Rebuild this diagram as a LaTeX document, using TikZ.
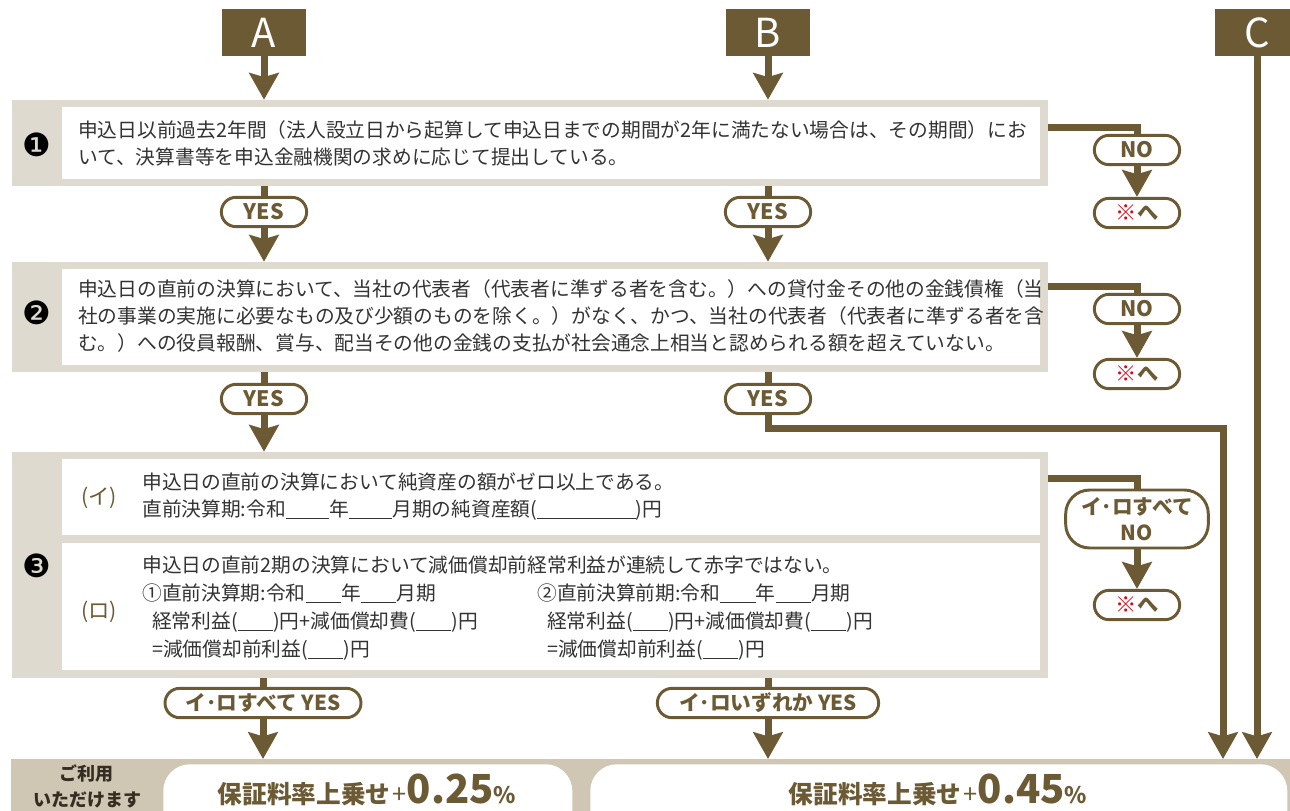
\documentclass[tikz,border=0pt]{standalone}
\usepackage{fontspec}
\setmainfont{Noto Sans CJK JP}
\newfontfamily\dingfont{DejaVu Sans}
\usetikzlibrary{arrows.meta}
\definecolor{brn}{HTML}{6B5A34}
\definecolor{boxtan}{HTML}{DEDACF}
\definecolor{bandtan}{HTML}{CFC7B4}
\definecolor{ink}{HTML}{333333}
\definecolor{inkdark}{HTML}{352D22}
\definecolor{kome}{HTML}{E60012}
\newcommand{\blk}[1]{\rule[-2pt]{#1}{0.7pt}}
\newcommand{\uplift}[1]{{\fontsize{18.5pt}{18.5pt}\selectfont 保証料率上乗せ}\,{\mdseries\fontsize{19pt}{19pt}\selectfont+}{\fontsize{30pt}{30pt}\selectfont #1}{\fontsize{17pt}{17pt}\selectfont\%}}
\tikzset{
  head/.style={fill=brn, text=white, minimum width=63pt, minimum height=35pt, inner sep=0pt, font=\fontsize{30pt}{30pt}\selectfont},
  qbox/.style={fill=boxtan, minimum width=777pt, inner sep=0pt},
  pill/.style={draw=brn, line width=2.2pt, fill=white, rounded corners=11pt, text=brn, inner sep=0pt, minimum width=64pt, minimum height=22pt, font=\bfseries\fontsize{16pt}{16pt}\selectfont},
  body/.style={anchor=west, align=left, text=ink, inner sep=0pt, font=\fontsize{14.8pt}{20.5pt}\selectfont},
  num/.style={font=\dingfont\fontsize{24pt}{24pt}\selectfont},
  conn/.style={draw=brn, line width=5.25pt},
}
\begin{document}
\begin{tikzpicture}[x=0.75pt, y=-0.75pt, >={Stealth[length=20pt,width=22pt,inset=3pt]}]
  \useasboundingbox (0,0) rectangle (1290,811);
  \node[head] (hA) at (264,32.5) {A};
  \node[head] (hB) at (768,32.5) {B};
  \node[head] (hC) at (1257,32.5) {C};

  \node[qbox, minimum height=64.5pt] (box1) at (530,143) {};
  \node[qbox, minimum height=82.5pt] (box2) at (530,317) {};
  \node[qbox, minimum height=169.5pt] (box3) at (530,565) {};
  \fill[white] (62,107) rectangle (1040,179);
  \fill[white] (62,269) rectangle (1040,365);
  \fill[white] (62,459) rectangle (1040,535);
  \fill[white] (62,543) rectangle (1040,670);
  \node[num] (n1) at (37,145) {❶};
  \node[num] (n2) at (37,313) {❷};
  \node[num] (n3) at (37,566) {❸};

  \node[body] (t1) at (78,143.5) {申込日以前過去2年間（法人設立日から起算して申込日までの期間が2年に満たない場合は、その期間）にお\\いて、決算書等を申込金融機関の求めに応じて提出している。};
  \node[body] (t2) at (78,316) {申込日の直前の決算において、当社の代表者（代表者に準ずる者を含む。）への貸付金その他の金銭債権（当\\社の事業の実施に必要なもの及び少額のものを除く。）がなく、かつ、当社の代表者（代表者に準ずる者を含\\む。）への役員報酬、賞与、配当その他の金銭の支払が社会通念上相当と認められる額を超えていない。};
  \node[body, text=brn, font=\fontsize{16pt}{16pt}\selectfont] (li) at (81,498) {(イ)};
  \node[body, text=brn, font=\fontsize{16pt}{16pt}\selectfont] (lro) at (81,612) {(ロ)};
  \node[body] (ti) at (142,496.5) {申込日の直前の決算において純資産の額がゼロ以上である。\\直前決算期:令和\blk{2.2em}年\blk{2.2em}月期の純資産額(\blk{5em})円};
  \node[body] (tro) at (142,565) {申込日の直前2期の決算において減価償却前経常利益が連続して赤字ではない。};
  \node[body, font=\fontsize{14.8pt}{21pt}\selectfont] (tro1) at (142,622) {①直前決算期:令和\blk{1.8em}年\blk{1.8em}月期\\\hspace{0.5em}経常利益(\blk{1.8em})円+減価償却費(\blk{1.8em})円\\\hspace{0.5em}=減価償却前利益(\blk{1.8em})円};
  \node[body, font=\fontsize{14.8pt}{21pt}\selectfont] (tro2) at (537,622) {②直前決算前期:令和\blk{1.8em}年\blk{1.8em}月期\\\hspace{0.5em}経常利益(\blk{1.8em})円+減価償却費(\blk{1.8em})円\\\hspace{0.5em}=減価償却前利益(\blk{1.8em})円};

  \node[pill] (yesA1) at (264,212) {YES};
  \node[pill] (yesB1) at (768,212) {YES};
  \node[pill] (no1) at (1137,150) {NO};
  \node[pill] (ref1) at (1137,213) {\textcolor{kome}{※}へ};
  \node[pill] (yesA2) at (264,399) {YES};
  \node[pill] (yesB2) at (768,399) {YES};
  \node[pill] (no2) at (1137,309) {NO};
  \node[pill] (ref2) at (1137,374) {\textcolor{kome}{※}へ};
  \node[pill, minimum width=107pt, minimum height=43.5pt, rounded corners=18pt, align=center, font=\bfseries\fontsize{15.5pt}{19.5pt}\selectfont] (no3) at (1137,519) {イ･ロすべて\\NO};
  \node[pill] (ref3) at (1137,605) {\textcolor{kome}{※}へ};
  \node[pill, minimum width=147pt, font=\bfseries\fontsize{15.5pt}{15.5pt}\selectfont] (yesA3) at (263,703) {イ･ロすべて YES};
  \node[pill, minimum width=166pt, font=\bfseries\fontsize{15.5pt}{15.5pt}\selectfont] (yesB3) at (768,703) {イ･ロいずれか YES};

  \node[fill=bandtan, minimum width=970pt, minimum height=60pt, inner sep=0pt, anchor=north west] (band) at (11,759) {};
  \node[fill=white, rounded corners=20pt, minimum width=306.75pt, minimum height=75pt, inner sep=0pt, anchor=north west] (res1) at (163,764) {};
  \node[fill=white, rounded corners=20pt, minimum width=522.75pt, minimum height=75pt, inner sep=0pt, anchor=north west] (res2) at (590,764) {};
  \node[align=center, text=inkdark, inner sep=0pt, font=\bfseries\fontsize{13.5pt}{19pt}\selectfont] (use) at (87,786.5) {ご利用\\いただけます};
  \node[anchor=base, text=brn, inner sep=0pt, font=\bfseries] (lab1) at (367,803) {\uplift{0.25}};
  \node[anchor=base, text=brn, inner sep=0pt, font=\bfseries] (lab2) at (938,803) {\uplift{0.45}};

  \draw[conn,->] (hA.south) -- (hA.south |- box1.north);
  \draw[conn,->] (hB.south) -- (hB.south |- box1.north);
  \draw[conn] (box1.south -| yesA1) -- (yesA1.north);
  \draw[conn] (box1.south -| yesB1) -- (yesB1.north);
  \draw[conn,->] (yesA1.south) -- (yesA1.south |- box2.north);
  \draw[conn,->] (yesB1.south) -- (yesB1.south |- box2.north);
  \draw[conn] ([yshift=12pt]box1.east) -| (no1.north);
  \draw[conn,->] (no1.south) -- (ref1.north);
  \draw[conn] (box2.south -| yesA2) -- (yesA2.north);
  \draw[conn] (box2.south -| yesB2) -- (yesB2.north);
  \draw[conn,->] (yesA2.south) -- (yesA2.south |- box3.north);
  \draw[conn] ([yshift=23.25pt]box2.east) -| (no2.north);
  \draw[conn,->] (no2.south) -- (ref2.north);
  \draw[conn] ([yshift=65.25pt]box3.east) -| (no3.north);
  \draw[conn,->] (no3.south) -- (ref3.north);
  \draw[conn] (box3.south -| yesA3) -- (yesA3.north);
  \draw[conn] (box3.south -| yesB3) -- (yesB3.north);
  \draw[conn,->] (yesA3.south) -- (yesA3.south |- band.north);
  \draw[conn,->] (yesB3.south) -- (yesB3.south |- band.north);
  \coordinate (jB) at (1223,428);
  \draw[conn,->] (yesB2.south) |- (jB) -- (jB |- band.north);
  \draw[conn,->] (hC.south) -- (hC.south |- band.north);
\end{tikzpicture}
\end{document}
